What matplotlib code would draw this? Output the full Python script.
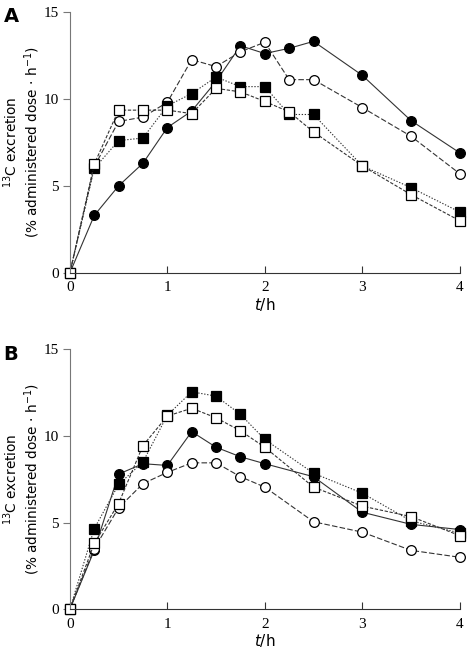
import matplotlib.pyplot as plt

# time points (h)
t_a = [0, 0.25, 0.5, 0.75, 1, 1.25, 1.5, 1.75, 2, 2.25, 2.5, 3, 3.5, 4]
t_b = [0, 0.25, 0.5, 0.75, 1, 1.25, 1.5, 1.75, 2, 2.5, 3, 3.5, 4]

# panel A
a_filled_circle = [0, 3.3, 5.0, 6.3, 8.35, 9.3, 11.0, 13.05, 12.6, 12.9, 13.3, 11.35, 8.75, 6.9]
a_open_circle = [0, 6.1, 8.7, 8.95, 9.8, 12.25, 11.85, 12.7, 13.25, 11.1, 11.1, 9.5, 7.85, 5.7]
a_filled_square = [0, 6.0, 7.6, 7.75, 9.6, 10.3, 11.25, 10.7, 10.7, 9.1, 9.1, 6.15, 4.9, 3.5]
a_open_square = [0, 6.25, 9.35, 9.35, 9.35, 9.15, 10.6, 10.4, 9.85, 9.25, 8.1, 6.15, 4.5, 3.0]

# panel B
b_filled_circle = [0, 3.4, 7.8, 8.4, 8.3, 10.25, 9.35, 8.8, 8.4, 7.65, 5.6, 4.9, 4.6]
b_open_circle = [0, 3.5, 5.85, 7.25, 7.9, 8.45, 8.45, 7.65, 7.05, 5.05, 4.45, 3.4, 3.0]
b_filled_square = [0, 4.65, 7.2, 8.5, 11.2, 12.55, 12.3, 11.25, 9.8, 7.85, 6.7, 5.1, 4.4]
b_open_square = [0, 3.8, 6.1, 9.45, 11.15, 11.6, 11.05, 10.3, 9.35, 7.05, 5.95, 5.35, 4.25]

fig = plt.figure(figsize=(4.72, 6.53), dpi=100)

panels = [
    ('A', [0.148, 0.582, 0.826, 0.400], t_a,
     [a_filled_circle, a_open_circle, a_filled_square, a_open_square]),
    ('B', [0.148, 0.067, 0.826, 0.398], t_b,
     [b_filled_circle, b_open_circle, b_filled_square, b_open_square]),
]

styles = [
    dict(marker='o', mfc='black', ls='-', ms=7),
    dict(marker='o', mfc='white', ls=(0, (5, 2)), ms=7),
    dict(marker='s', mfc='black', ls=(0, (1.2, 1.5)), ms=6.5),
    dict(marker='s', mfc='white', ls=(0, (3, 1.5)), ms=6.5),
]

for label, rect, t, series in panels:
    ax = fig.add_axes(rect)
    for vals, st in zip(series, styles):
        ax.plot(t, vals, color='#333333', lw=0.8, mec='black',
                mew=0.9, clip_on=False, **st)
    ax.set_xlim(0, 4)
    ax.set_ylim(0, 15)
    ax.set_xticks([0, 1, 2, 3, 4])
    ax.set_yticks([0, 5, 10, 15])
    ax.spines['top'].set_visible(False)
    ax.spines['right'].set_visible(False)
    ax.spines['left'].set_color('#777777')
    ax.spines['bottom'].set_color('#333333')
    ax.tick_params(axis='x', direction='in', length=5, color='#333333', pad=6)
    ax.tick_params(axis='y', direction='out', length=5, color='#777777', pad=3)
    for lab in ax.get_yticklabels() + ax.get_xticklabels():
        lab.set_fontfamily('Liberation Serif')
        lab.set_fontsize(11)
    ax.set_xlabel('$\\it{t}$/h', fontsize=11, labelpad=1)
    ax.set_ylabel('$^{13}$C excretion\n(% administered dose $\\cdot$ h$^{-1}$)',
                  fontsize=9.8, linespacing=1.15)
    ax.yaxis.set_label_coords(-0.072, 0.5)
    ax.text(-0.151, 0.98, label, transform=ax.transAxes, fontsize=14,
            fontweight='bold', ha='center', va='center')

fig.savefig('out.png', dpi=100)
